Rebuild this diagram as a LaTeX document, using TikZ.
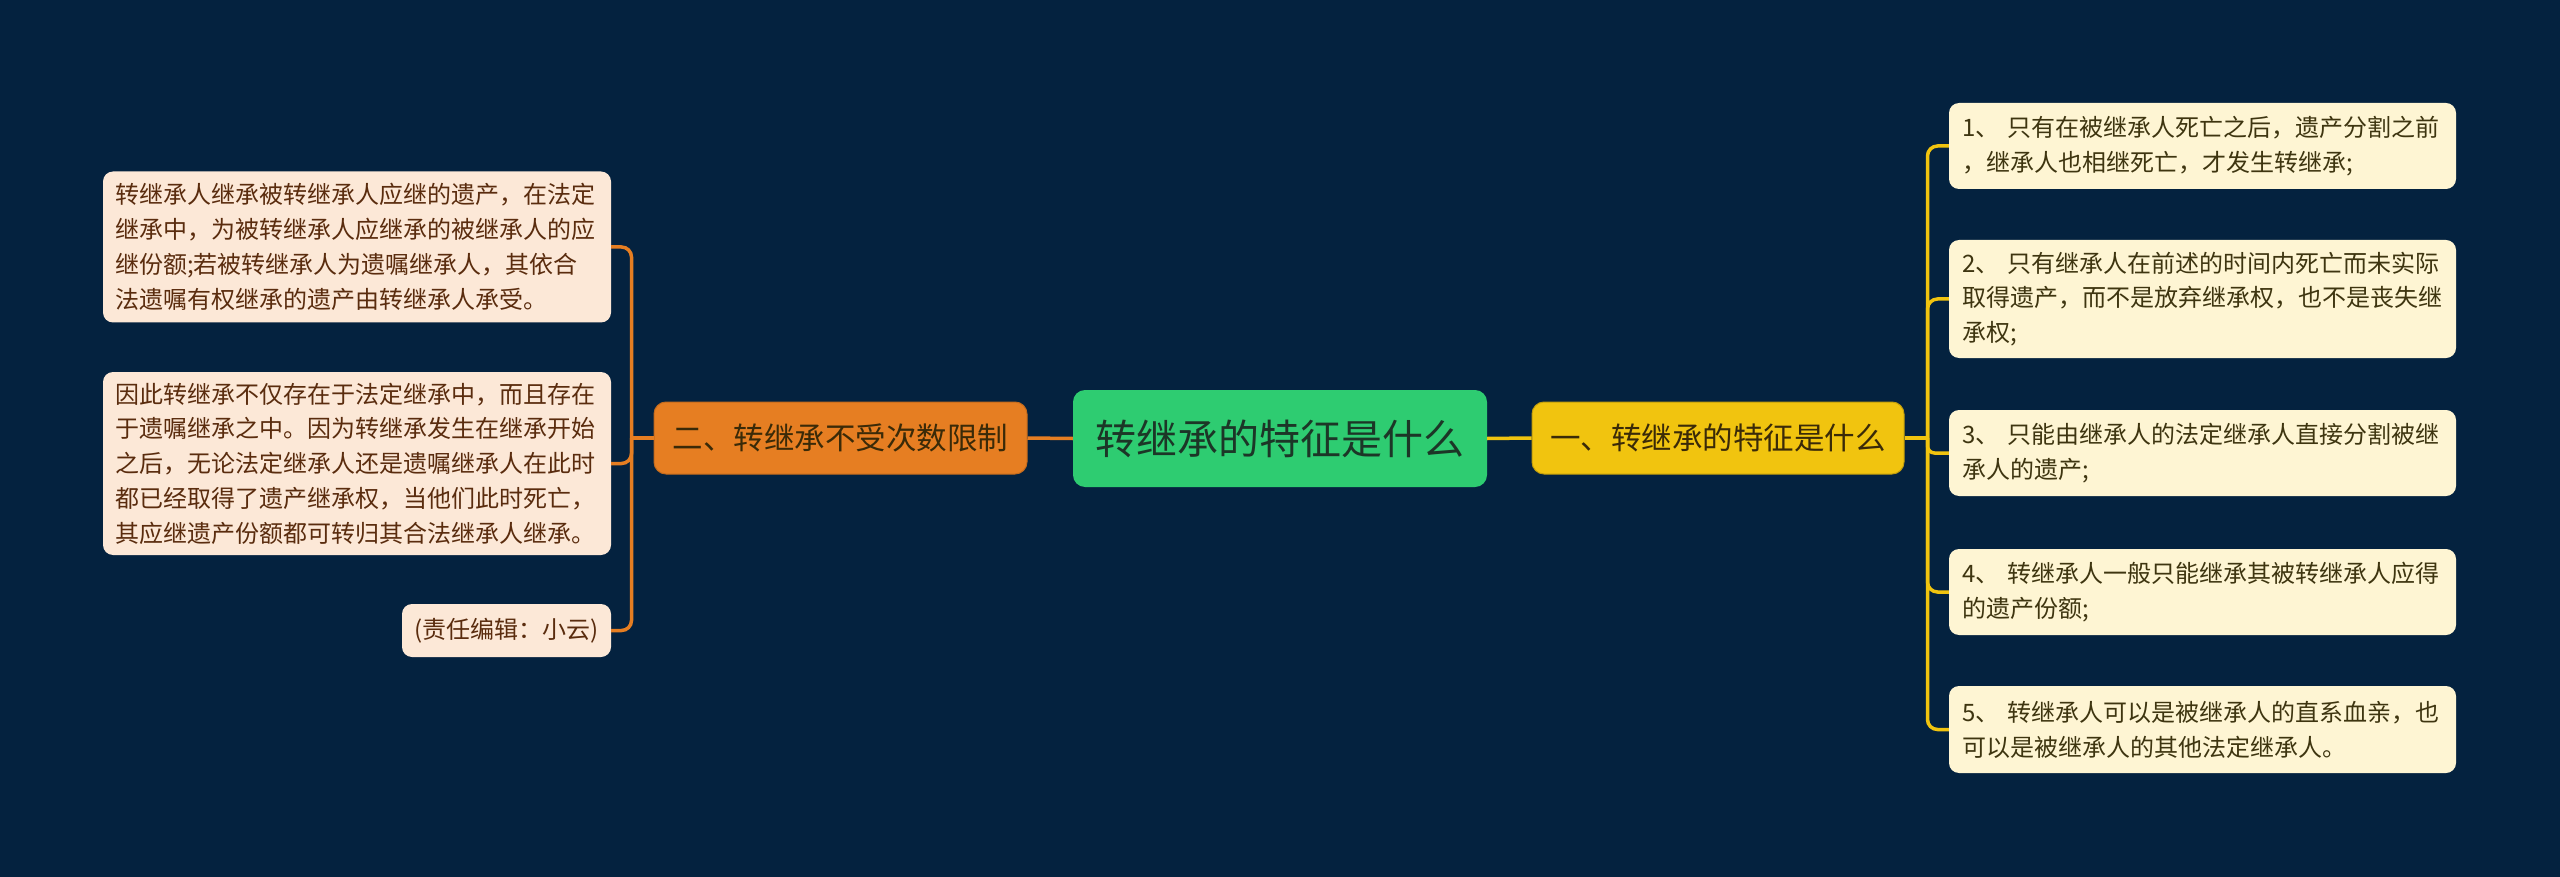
\documentclass[tikz,border=0pt]{standalone}
\usepackage{fontspec}
\newfontfamily\cjk{Noto Sans CJK SC}
\usetikzlibrary{calc}

\definecolor{bgnavy}{HTML}{04223F}
\definecolor{rootgreen}{HTML}{2ECC71}
\definecolor{rootink}{HTML}{1C3627}
\definecolor{branchorange}{HTML}{E67E22}
\definecolor{branchyellow}{HTML}{F1C40F}
\definecolor{branchink}{HTML}{3A2A08}
\definecolor{peach}{HTML}{FCE8D7}
\definecolor{cream}{HTML}{FEF5D3}
\definecolor{brownink}{HTML}{5A2C0E}
\definecolor{oliveink}{HTML}{3E3510}

\begin{document}
\begin{tikzpicture}[x=1pt, y=-1pt,
    leaf/.style={rounded corners=10pt, align=left, inner ysep=0pt,
                 font=\cjk\fontsize{24}{34.8}\selectfont},
    lleaf/.style={leaf, fill=peach, text=brownink, text width=484pt, inner xsep=12pt},
    rleaf/.style={leaf, fill=cream, text=oliveink, text width=481pt, inner xsep=13pt},
    branch/.style={rounded corners=12pt, minimum height=72pt, inner sep=0pt,
                   text=branchink, font=\cjk\fontsize{30.5}{36}\selectfont},
    oline/.style={draw=branchorange, line width=3.5pt},
    yline/.style={draw=branchyellow, line width=3.5pt}]

    % 背景
    \fill[bgnavy] (0,0) rectangle (2560,877);
    \useasboundingbox (0,0) rectangle (2560,877);

    % 中心与分支
    \node[fill=rootgreen, text=rootink, rounded corners=12pt, minimum width=414pt,
          minimum height=97pt, font=\cjk\fontsize{41}{48}\selectfont] (root) at (1280,438.5) {转继承的特征是什么};
    \node[branch, fill=branchorange, draw=branchorange!85!black, line width=1pt,
          minimum width=373pt] (two) at (840.5,438) {二、转继承不受次数限制};
    \node[branch, fill=branchyellow, draw=branchyellow!80!black, line width=1pt,
          minimum width=372pt] (one) at (1718,438) {一、转继承的特征是什么};

    % 左侧内容
    \node[lleaf, minimum height=151pt] (l1) at (357,247) {转继承人继承被转继承人应继的遗产，在法定\\继承中，为被转继承人应继承的被继承人的应\\继份额;若被转继承人为遗嘱继承人，其依合\\法遗嘱有权继承的遗产由转继承人承受。};
    \node[lleaf, minimum height=183pt] (l2) at (357,463.5) {因此转继承不仅存在于法定继承中，而且存在\\于遗嘱继承之中。因为转继承发生在继承开始\\之后，无论法定继承人还是遗嘱继承人在此时\\都已经取得了遗产继承权，当他们此时死亡，\\其应继遗产份额都可转归其合法继承人继承。};
    \node[leaf, fill=peach, text=brownink, align=center, minimum width=209pt,
          minimum height=53pt] (l3) at (506.5,630.5) {(责任编辑：小云)};

    % 右侧内容
    \node[rleaf, minimum height=86pt] (r1) at (2202.5,146) {1、 只有在被继承人死亡之后，遗产分割之前\\，继承人也相继死亡，才发生转继承;};
    \node[rleaf, minimum height=118pt] (r2) at (2202.5,299) {2、 只有继承人在前述的时间内死亡而未实际\\取得遗产，而不是放弃继承权，也不是丧失继\\承权;};
    \node[rleaf, minimum height=86pt] (r3) at (2202.5,453) {3、 只能由继承人的法定继承人直接分割被继\\承人的遗产;};
    \node[rleaf, minimum height=86pt] (r4) at (2202.5,592) {4、 转继承人一般只能继承其被转继承人应得\\的遗产份额;};
    \node[rleaf, minimum height=87pt] (r5) at (2202.5,729.5) {5、 转继承人可以是被继承人的直系血亲，也\\可以是被继承人的其他法定继承人。};

    % 连线
    \draw[oline] (two.east) -- (root.west);
    \draw[yline] (root.east) -- (one.west);

    \coordinate (lj) at ($(two.west)+(-22,0)$);
    \draw[oline] (two.west) -- (lj);
    \foreach \n in {l1,l2,l3}
        \draw[oline, rounded corners=10pt] (lj) |- (\n.east);

    \coordinate (rj) at ($(one.east)+(23,0)$);
    \draw[yline] (one.east) -- (rj);
    \foreach \n in {r1,r2,r4,r5}
        \draw[yline, rounded corners=10pt] (rj) |- (\n.west);
    \draw[yline, rounded corners=7pt] (rj) |- (r3.west);
\end{tikzpicture}
\end{document}
